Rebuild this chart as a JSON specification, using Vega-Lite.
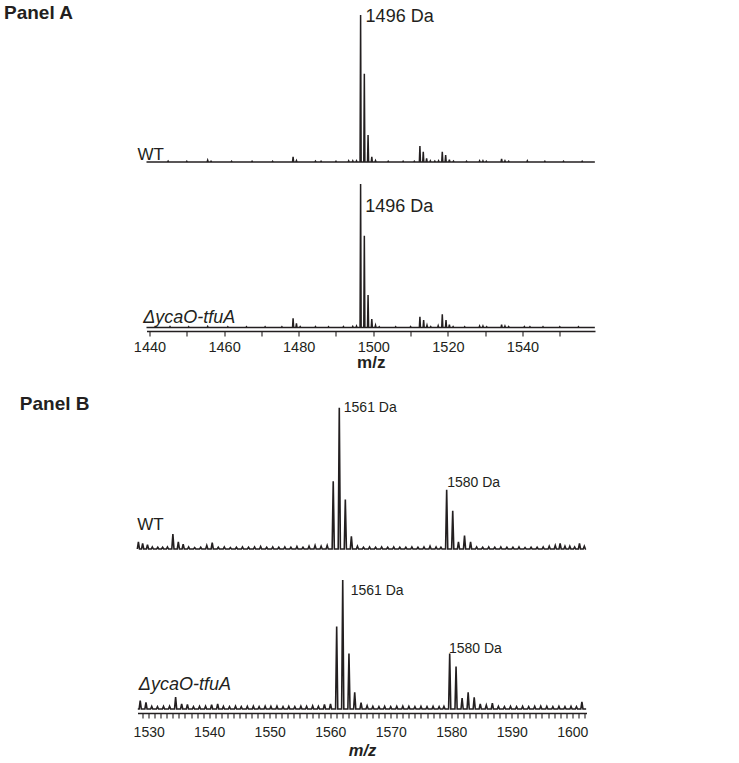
{
"$schema": "https://vega.github.io/schema/vega-lite/v6.json",
"padding": {"left": 3.5, "top": 0, "right": 8, "bottom": 4},
"background": "white",
"spacing": 20,
"bounds": "flush",
"config": {"view": {"stroke": null}, "font": "Liberation Sans", "text": {"font": "Liberation Sans", "color": "#231f20"}},
"datasets": {
"aWT": [
{"mz":1439.2,"intensity":0},
{"mz":1444.85,"intensity":0},{"mz":1445,"intensity":0.006},{"mz":1445.15,"intensity":0},
{"mz":1449.85,"intensity":0},{"mz":1450,"intensity":0.005},{"mz":1450.15,"intensity":0},
{"mz":1455.45,"intensity":0},{"mz":1455.6,"intensity":0.012},{"mz":1455.75,"intensity":0},
{"mz":1456.35,"intensity":0},{"mz":1456.5,"intensity":0.005},{"mz":1456.65,"intensity":0},
{"mz":1461.85,"intensity":0},{"mz":1462,"intensity":0.005},{"mz":1462.15,"intensity":0},
{"mz":1467.35,"intensity":0},{"mz":1467.5,"intensity":0.005},{"mz":1467.65,"intensity":0},
{"mz":1472.85,"intensity":0},{"mz":1473,"intensity":0.005},{"mz":1473.15,"intensity":0},
{"mz":1478.35,"intensity":0},{"mz":1478.5,"intensity":0.036},{"mz":1478.65,"intensity":0},
{"mz":1479.25,"intensity":0},{"mz":1479.4,"intensity":0.01},{"mz":1479.55,"intensity":0},
{"mz":1484.35,"intensity":0},{"mz":1484.5,"intensity":0.006},{"mz":1484.65,"intensity":0},
{"mz":1485.85,"intensity":0},{"mz":1486,"intensity":0.005},{"mz":1486.15,"intensity":0},
{"mz":1489.85,"intensity":0},{"mz":1490,"intensity":0.005},{"mz":1490.15,"intensity":0},
{"mz":1493.25,"intensity":0},{"mz":1493.4,"intensity":0.008},{"mz":1493.55,"intensity":0},
{"mz":1494.35,"intensity":0},{"mz":1494.5,"intensity":0.008},{"mz":1494.65,"intensity":0},
{"mz":1495.35,"intensity":0},{"mz":1495.5,"intensity":0.008},{"mz":1495.65,"intensity":0},
{"mz":1496.45,"intensity":0},{"mz":1496.6,"intensity":1,"label":"1496 Da"},{"mz":1496.75,"intensity":0},
{"mz":1497.45,"intensity":0},{"mz":1497.6,"intensity":0.6},{"mz":1497.75,"intensity":0},
{"mz":1498.45,"intensity":0},{"mz":1498.6,"intensity":0.184},{"mz":1498.75,"intensity":0},
{"mz":1499.45,"intensity":0},{"mz":1499.6,"intensity":0.036},{"mz":1499.75,"intensity":0},
{"mz":1500.45,"intensity":0},{"mz":1500.6,"intensity":0.01},{"mz":1500.75,"intensity":0},
{"mz":1503.85,"intensity":0},{"mz":1504,"intensity":0.005},{"mz":1504.15,"intensity":0},
{"mz":1507.85,"intensity":0},{"mz":1508,"intensity":0.005},{"mz":1508.15,"intensity":0},
{"mz":1510.85,"intensity":0},{"mz":1511,"intensity":0.005},{"mz":1511.15,"intensity":0},
{"mz":1512.35,"intensity":0},{"mz":1512.5,"intensity":0.109},{"mz":1512.65,"intensity":0},
{"mz":1513.25,"intensity":0},{"mz":1513.4,"intensity":0.07},{"mz":1513.55,"intensity":0},
{"mz":1514.15,"intensity":0},{"mz":1514.3,"intensity":0.025},{"mz":1514.45,"intensity":0},
{"mz":1515.15,"intensity":0},{"mz":1515.3,"intensity":0.008},{"mz":1515.45,"intensity":0},
{"mz":1516.35,"intensity":0},{"mz":1516.5,"intensity":0.006},{"mz":1516.65,"intensity":0},
{"mz":1517.35,"intensity":0},{"mz":1517.5,"intensity":0.008},{"mz":1517.65,"intensity":0},
{"mz":1518.35,"intensity":0},{"mz":1518.5,"intensity":0.07},{"mz":1518.65,"intensity":0},
{"mz":1519.25,"intensity":0},{"mz":1519.4,"intensity":0.048},{"mz":1519.55,"intensity":0},
{"mz":1520.25,"intensity":0},{"mz":1520.4,"intensity":0.016},{"mz":1520.55,"intensity":0},
{"mz":1521.35,"intensity":0},{"mz":1521.5,"intensity":0.006},{"mz":1521.65,"intensity":0},
{"mz":1524.85,"intensity":0},{"mz":1525,"intensity":0.005},{"mz":1525.15,"intensity":0},
{"mz":1528.35,"intensity":0},{"mz":1528.5,"intensity":0.008},{"mz":1528.65,"intensity":0},
{"mz":1529.25,"intensity":0},{"mz":1529.4,"intensity":0.008},{"mz":1529.55,"intensity":0},
{"mz":1530.15,"intensity":0},{"mz":1530.3,"intensity":0.005},{"mz":1530.45,"intensity":0},
{"mz":1534.25,"intensity":0},{"mz":1534.4,"intensity":0.022},{"mz":1534.55,"intensity":0},
{"mz":1535.15,"intensity":0},{"mz":1535.3,"intensity":0.008},{"mz":1535.45,"intensity":0},
{"mz":1536.15,"intensity":0},{"mz":1536.3,"intensity":0.005},{"mz":1536.45,"intensity":0},
{"mz":1541.15,"intensity":0},{"mz":1541.3,"intensity":0.008},{"mz":1541.45,"intensity":0},
{"mz":1545.85,"intensity":0},{"mz":1546,"intensity":0.005},{"mz":1546.15,"intensity":0},
{"mz":1550.85,"intensity":0},{"mz":1551,"intensity":0.005},{"mz":1551.15,"intensity":0},
{"mz":1555.85,"intensity":0},{"mz":1556,"intensity":0.005},{"mz":1556.15,"intensity":0},
{"mz":1559.4,"intensity":0}
],
"aKO": [
{"mz":1439.2,"intensity":0},
{"mz":1445.35,"intensity":0},{"mz":1445.5,"intensity":0.006},{"mz":1445.65,"intensity":0},
{"mz":1450.35,"intensity":0},{"mz":1450.5,"intensity":0.005},{"mz":1450.65,"intensity":0},
{"mz":1455.45,"intensity":0},{"mz":1455.6,"intensity":0.008},{"mz":1455.75,"intensity":0},
{"mz":1460.85,"intensity":0},{"mz":1461,"intensity":0.005},{"mz":1461.15,"intensity":0},
{"mz":1465.85,"intensity":0},{"mz":1466,"intensity":0.005},{"mz":1466.15,"intensity":0},
{"mz":1470.85,"intensity":0},{"mz":1471,"intensity":0.005},{"mz":1471.15,"intensity":0},
{"mz":1475.35,"intensity":0},{"mz":1475.5,"intensity":0.005},{"mz":1475.65,"intensity":0},
{"mz":1478.35,"intensity":0},{"mz":1478.5,"intensity":0.064},{"mz":1478.65,"intensity":0},
{"mz":1479.25,"intensity":0},{"mz":1479.4,"intensity":0.029},{"mz":1479.55,"intensity":0},
{"mz":1480.25,"intensity":0},{"mz":1480.4,"intensity":0.006},{"mz":1480.55,"intensity":0},
{"mz":1484.35,"intensity":0},{"mz":1484.5,"intensity":0.006},{"mz":1484.65,"intensity":0},
{"mz":1487.85,"intensity":0},{"mz":1488,"intensity":0.005},{"mz":1488.15,"intensity":0},
{"mz":1491.85,"intensity":0},{"mz":1492,"intensity":0.006},{"mz":1492.15,"intensity":0},
{"mz":1494.35,"intensity":0},{"mz":1494.5,"intensity":0.008},{"mz":1494.65,"intensity":0},
{"mz":1495.35,"intensity":0},{"mz":1495.5,"intensity":0.01},{"mz":1495.65,"intensity":0},
{"mz":1496.45,"intensity":0},{"mz":1496.6,"intensity":1,"label":"1496 Da"},{"mz":1496.75,"intensity":0},
{"mz":1497.45,"intensity":0},{"mz":1497.6,"intensity":0.64},{"mz":1497.75,"intensity":0},
{"mz":1498.45,"intensity":0},{"mz":1498.6,"intensity":0.226},{"mz":1498.75,"intensity":0},
{"mz":1499.45,"intensity":0},{"mz":1499.6,"intensity":0.059},{"mz":1499.75,"intensity":0},
{"mz":1500.45,"intensity":0},{"mz":1500.6,"intensity":0.015},{"mz":1500.75,"intensity":0},
{"mz":1501.45,"intensity":0},{"mz":1501.6,"intensity":0.005},{"mz":1501.75,"intensity":0},
{"mz":1505.85,"intensity":0},{"mz":1506,"intensity":0.005},{"mz":1506.15,"intensity":0},
{"mz":1509.85,"intensity":0},{"mz":1510,"intensity":0.006},{"mz":1510.15,"intensity":0},
{"mz":1512.35,"intensity":0},{"mz":1512.5,"intensity":0.075},{"mz":1512.65,"intensity":0},
{"mz":1513.35,"intensity":0},{"mz":1513.5,"intensity":0.052},{"mz":1513.65,"intensity":0},
{"mz":1514.25,"intensity":0},{"mz":1514.4,"intensity":0.015},{"mz":1514.55,"intensity":0},
{"mz":1515.25,"intensity":0},{"mz":1515.4,"intensity":0.006},{"mz":1515.55,"intensity":0},
{"mz":1517.25,"intensity":0},{"mz":1517.4,"intensity":0.012},{"mz":1517.55,"intensity":0},
{"mz":1518.35,"intensity":0},{"mz":1518.5,"intensity":0.092},{"mz":1518.65,"intensity":0},
{"mz":1519.35,"intensity":0},{"mz":1519.5,"intensity":0.052},{"mz":1519.65,"intensity":0},
{"mz":1520.25,"intensity":0},{"mz":1520.4,"intensity":0.02},{"mz":1520.55,"intensity":0},
{"mz":1521.25,"intensity":0},{"mz":1521.4,"intensity":0.006},{"mz":1521.55,"intensity":0},
{"mz":1524.35,"intensity":0},{"mz":1524.5,"intensity":0.005},{"mz":1524.65,"intensity":0},
{"mz":1528.35,"intensity":0},{"mz":1528.5,"intensity":0.01},{"mz":1528.65,"intensity":0},
{"mz":1529.25,"intensity":0},{"mz":1529.4,"intensity":0.01},{"mz":1529.55,"intensity":0},
{"mz":1530.25,"intensity":0},{"mz":1530.4,"intensity":0.005},{"mz":1530.55,"intensity":0},
{"mz":1534.25,"intensity":0},{"mz":1534.4,"intensity":0.02},{"mz":1534.55,"intensity":0},
{"mz":1535.15,"intensity":0},{"mz":1535.3,"intensity":0.01},{"mz":1535.45,"intensity":0},
{"mz":1536.15,"intensity":0},{"mz":1536.3,"intensity":0.006},{"mz":1536.45,"intensity":0},
{"mz":1540.35,"intensity":0},{"mz":1540.5,"intensity":0.006},{"mz":1540.65,"intensity":0},
{"mz":1541.85,"intensity":0},{"mz":1542,"intensity":0.005},{"mz":1542.15,"intensity":0},
{"mz":1545.35,"intensity":0},{"mz":1545.5,"intensity":0.005},{"mz":1545.65,"intensity":0},
{"mz":1549.85,"intensity":0},{"mz":1550,"intensity":0.005},{"mz":1550.15,"intensity":0},
{"mz":1554.85,"intensity":0},{"mz":1555,"intensity":0.005},{"mz":1555.15,"intensity":0},
{"mz":1559.4,"intensity":0}
],
"bWT": [
{"mz":1528.12,"intensity":0},{"mz":1528.3,"intensity":0.05},{"mz":1528.48,"intensity":0},
{"mz":1528.82,"intensity":0},{"mz":1529.0,"intensity":0.04},{"mz":1529.18,"intensity":0},
{"mz":1529.62,"intensity":0},{"mz":1529.8,"intensity":0.03},{"mz":1529.98,"intensity":0},
{"mz":1530.42,"intensity":0},{"mz":1530.6,"intensity":0.015},{"mz":1530.78,"intensity":0},
{"mz":1531.32,"intensity":0},{"mz":1531.5,"intensity":0.012},{"mz":1531.68,"intensity":0},
{"mz":1532.12,"intensity":0},{"mz":1532.3,"intensity":0.012},{"mz":1532.48,"intensity":0},
{"mz":1532.92,"intensity":0},{"mz":1533.1,"intensity":0.015},{"mz":1533.28,"intensity":0},
{"mz":1533.82,"intensity":0},{"mz":1534.0,"intensity":0.105},{"mz":1534.18,"intensity":0},
{"mz":1534.72,"intensity":0},{"mz":1534.9,"intensity":0.05},{"mz":1535.08,"intensity":0},
{"mz":1535.52,"intensity":0},{"mz":1535.7,"intensity":0.035},{"mz":1535.88,"intensity":0},
{"mz":1536.42,"intensity":0},{"mz":1536.6,"intensity":0.015},{"mz":1536.78,"intensity":0},
{"mz":1537.42,"intensity":0},{"mz":1537.6,"intensity":0.01},{"mz":1537.78,"intensity":0},
{"mz":1538.42,"intensity":0},{"mz":1538.6,"intensity":0.012},{"mz":1538.78,"intensity":0},
{"mz":1539.42,"intensity":0},{"mz":1539.6,"intensity":0.025},{"mz":1539.78,"intensity":0},
{"mz":1540.32,"intensity":0},{"mz":1540.5,"intensity":0.045},{"mz":1540.68,"intensity":0},
{"mz":1541.32,"intensity":0},{"mz":1541.5,"intensity":0.012},{"mz":1541.68,"intensity":0},
{"mz":1542.32,"intensity":0},{"mz":1542.5,"intensity":0.015},{"mz":1542.68,"intensity":0},
{"mz":1543.32,"intensity":0},{"mz":1543.5,"intensity":0.01},{"mz":1543.68,"intensity":0},
{"mz":1544.32,"intensity":0},{"mz":1544.5,"intensity":0.012},{"mz":1544.68,"intensity":0},
{"mz":1545.32,"intensity":0},{"mz":1545.5,"intensity":0.015},{"mz":1545.68,"intensity":0},
{"mz":1546.32,"intensity":0},{"mz":1546.5,"intensity":0.012},{"mz":1546.68,"intensity":0},
{"mz":1547.32,"intensity":0},{"mz":1547.5,"intensity":0.015},{"mz":1547.68,"intensity":0},
{"mz":1548.32,"intensity":0},{"mz":1548.5,"intensity":0.018},{"mz":1548.68,"intensity":0},
{"mz":1549.32,"intensity":0},{"mz":1549.5,"intensity":0.012},{"mz":1549.68,"intensity":0},
{"mz":1550.32,"intensity":0},{"mz":1550.5,"intensity":0.015},{"mz":1550.68,"intensity":0},
{"mz":1551.32,"intensity":0},{"mz":1551.5,"intensity":0.012},{"mz":1551.68,"intensity":0},
{"mz":1552.32,"intensity":0},{"mz":1552.5,"intensity":0.015},{"mz":1552.68,"intensity":0},
{"mz":1553.32,"intensity":0},{"mz":1553.5,"intensity":0.012},{"mz":1553.68,"intensity":0},
{"mz":1554.32,"intensity":0},{"mz":1554.5,"intensity":0.018},{"mz":1554.68,"intensity":0},
{"mz":1555.32,"intensity":0},{"mz":1555.5,"intensity":0.012},{"mz":1555.68,"intensity":0},
{"mz":1556.32,"intensity":0},{"mz":1556.5,"intensity":0.02},{"mz":1556.68,"intensity":0},
{"mz":1557.32,"intensity":0},{"mz":1557.5,"intensity":0.025},{"mz":1557.68,"intensity":0},
{"mz":1558.32,"intensity":0},{"mz":1558.5,"intensity":0.02},{"mz":1558.68,"intensity":0},
{"mz":1559.32,"intensity":0},{"mz":1559.5,"intensity":0.025},{"mz":1559.68,"intensity":0},
{"mz":1560.32,"intensity":0},{"mz":1560.5,"intensity":0.48},{"mz":1560.68,"intensity":0},
{"mz":1561.32,"intensity":0},{"mz":1561.5,"intensity":1,"label":"1561 Da"},{"mz":1561.68,"intensity":0},
{"mz":1562.32,"intensity":0},{"mz":1562.5,"intensity":0.35},{"mz":1562.68,"intensity":0},
{"mz":1563.32,"intensity":0},{"mz":1563.5,"intensity":0.09},{"mz":1563.68,"intensity":0},
{"mz":1564.32,"intensity":0},{"mz":1564.5,"intensity":0.02},{"mz":1564.68,"intensity":0},
{"mz":1565.32,"intensity":0},{"mz":1565.5,"intensity":0.012},{"mz":1565.68,"intensity":0},
{"mz":1566.32,"intensity":0},{"mz":1566.5,"intensity":0.015},{"mz":1566.68,"intensity":0},
{"mz":1567.32,"intensity":0},{"mz":1567.5,"intensity":0.012},{"mz":1567.68,"intensity":0},
{"mz":1568.32,"intensity":0},{"mz":1568.5,"intensity":0.015},{"mz":1568.68,"intensity":0},
{"mz":1569.32,"intensity":0},{"mz":1569.5,"intensity":0.012},{"mz":1569.68,"intensity":0},
{"mz":1570.32,"intensity":0},{"mz":1570.5,"intensity":0.015},{"mz":1570.68,"intensity":0},
{"mz":1571.32,"intensity":0},{"mz":1571.5,"intensity":0.012},{"mz":1571.68,"intensity":0},
{"mz":1572.32,"intensity":0},{"mz":1572.5,"intensity":0.012},{"mz":1572.68,"intensity":0},
{"mz":1573.32,"intensity":0},{"mz":1573.5,"intensity":0.015},{"mz":1573.68,"intensity":0},
{"mz":1574.32,"intensity":0},{"mz":1574.5,"intensity":0.012},{"mz":1574.68,"intensity":0},
{"mz":1575.32,"intensity":0},{"mz":1575.5,"intensity":0.015},{"mz":1575.68,"intensity":0},
{"mz":1576.32,"intensity":0},{"mz":1576.5,"intensity":0.02},{"mz":1576.68,"intensity":0},
{"mz":1577.32,"intensity":0},{"mz":1577.5,"intensity":0.015},{"mz":1577.68,"intensity":0},
{"mz":1578.12,"intensity":0},{"mz":1578.3,"intensity":0.012},{"mz":1578.48,"intensity":0},
{"mz":1579.07,"intensity":0},{"mz":1579.25,"intensity":0.42,"label":"1580 Da"},{"mz":1579.43,"intensity":0},
{"mz":1580.07,"intensity":0},{"mz":1580.25,"intensity":0.27},{"mz":1580.43,"intensity":0},
{"mz":1581.02,"intensity":0},{"mz":1581.2,"intensity":0.05},{"mz":1581.38,"intensity":0},
{"mz":1582.02,"intensity":0},{"mz":1582.2,"intensity":0.095},{"mz":1582.38,"intensity":0},
{"mz":1583.02,"intensity":0},{"mz":1583.2,"intensity":0.05},{"mz":1583.38,"intensity":0},
{"mz":1584.02,"intensity":0},{"mz":1584.2,"intensity":0.015},{"mz":1584.38,"intensity":0},
{"mz":1585.02,"intensity":0},{"mz":1585.2,"intensity":0.012},{"mz":1585.38,"intensity":0},
{"mz":1586.02,"intensity":0},{"mz":1586.2,"intensity":0.015},{"mz":1586.38,"intensity":0},
{"mz":1587.02,"intensity":0},{"mz":1587.2,"intensity":0.012},{"mz":1587.38,"intensity":0},
{"mz":1588.02,"intensity":0},{"mz":1588.2,"intensity":0.015},{"mz":1588.38,"intensity":0},
{"mz":1589.02,"intensity":0},{"mz":1589.2,"intensity":0.012},{"mz":1589.38,"intensity":0},
{"mz":1590.02,"intensity":0},{"mz":1590.2,"intensity":0.012},{"mz":1590.38,"intensity":0},
{"mz":1591.02,"intensity":0},{"mz":1591.2,"intensity":0.015},{"mz":1591.38,"intensity":0},
{"mz":1592.02,"intensity":0},{"mz":1592.2,"intensity":0.01},{"mz":1592.38,"intensity":0},
{"mz":1593.02,"intensity":0},{"mz":1593.2,"intensity":0.012},{"mz":1593.38,"intensity":0},
{"mz":1594.02,"intensity":0},{"mz":1594.2,"intensity":0.012},{"mz":1594.38,"intensity":0},
{"mz":1595.02,"intensity":0},{"mz":1595.2,"intensity":0.015},{"mz":1595.38,"intensity":0},
{"mz":1596.02,"intensity":0},{"mz":1596.2,"intensity":0.02},{"mz":1596.38,"intensity":0},
{"mz":1597.02,"intensity":0},{"mz":1597.2,"intensity":0.025},{"mz":1597.38,"intensity":0},
{"mz":1597.82,"intensity":0},{"mz":1598.0,"intensity":0.04},{"mz":1598.18,"intensity":0},
{"mz":1598.62,"intensity":0},{"mz":1598.8,"intensity":0.02},{"mz":1598.98,"intensity":0},
{"mz":1599.42,"intensity":0},{"mz":1599.6,"intensity":0.02},{"mz":1599.78,"intensity":0},
{"mz":1600.22,"intensity":0},{"mz":1600.4,"intensity":0.015},{"mz":1600.58,"intensity":0},
{"mz":1601.02,"intensity":0},{"mz":1601.2,"intensity":0.04},{"mz":1601.38,"intensity":0},
{"mz":1601.82,"intensity":0},{"mz":1602.0,"intensity":0.02},{"mz":1602.18,"intensity":0},
{"mz":1602.3,"intensity":0}
],
"bKO": [
{"mz":1528.2,"intensity":0},
{"mz":1528.42,"intensity":0},{"mz":1528.6,"intensity":0.065},{"mz":1528.78,"intensity":0},
{"mz":1529.37,"intensity":0},{"mz":1529.55,"intensity":0.052},{"mz":1529.73,"intensity":0},
{"mz":1530.32,"intensity":0},{"mz":1530.5,"intensity":0.02},{"mz":1530.68,"intensity":0},
{"mz":1531.27,"intensity":0},{"mz":1531.45,"intensity":0.018},{"mz":1531.63,"intensity":0},
{"mz":1532.27,"intensity":0},{"mz":1532.45,"intensity":0.02},{"mz":1532.63,"intensity":0},
{"mz":1533.27,"intensity":0},{"mz":1533.45,"intensity":0.022},{"mz":1533.63,"intensity":0},
{"mz":1534.27,"intensity":0},{"mz":1534.45,"intensity":0.093},{"mz":1534.63,"intensity":0},
{"mz":1535.27,"intensity":0},{"mz":1535.45,"intensity":0.04},{"mz":1535.63,"intensity":0},
{"mz":1536.22,"intensity":0},{"mz":1536.4,"intensity":0.036},{"mz":1536.58,"intensity":0},
{"mz":1537.22,"intensity":0},{"mz":1537.4,"intensity":0.018},{"mz":1537.58,"intensity":0},
{"mz":1538.22,"intensity":0},{"mz":1538.4,"intensity":0.02},{"mz":1538.58,"intensity":0},
{"mz":1539.22,"intensity":0},{"mz":1539.4,"intensity":0.022},{"mz":1539.58,"intensity":0},
{"mz":1540.22,"intensity":0},{"mz":1540.4,"intensity":0.034},{"mz":1540.58,"intensity":0},
{"mz":1541.22,"intensity":0},{"mz":1541.4,"intensity":0.04},{"mz":1541.58,"intensity":0},
{"mz":1542.17,"intensity":0},{"mz":1542.35,"intensity":0.02},{"mz":1542.53,"intensity":0},
{"mz":1543.17,"intensity":0},{"mz":1543.35,"intensity":0.018},{"mz":1543.53,"intensity":0},
{"mz":1544.17,"intensity":0},{"mz":1544.35,"intensity":0.022},{"mz":1544.53,"intensity":0},
{"mz":1545.12,"intensity":0},{"mz":1545.3,"intensity":0.018},{"mz":1545.48,"intensity":0},
{"mz":1546.12,"intensity":0},{"mz":1546.3,"intensity":0.02},{"mz":1546.48,"intensity":0},
{"mz":1547.12,"intensity":0},{"mz":1547.3,"intensity":0.022},{"mz":1547.48,"intensity":0},
{"mz":1548.07,"intensity":0},{"mz":1548.25,"intensity":0.018},{"mz":1548.43,"intensity":0},
{"mz":1549.07,"intensity":0},{"mz":1549.25,"intensity":0.022},{"mz":1549.43,"intensity":0},
{"mz":1550.02,"intensity":0},{"mz":1550.2,"intensity":0.02},{"mz":1550.38,"intensity":0},
{"mz":1551.02,"intensity":0},{"mz":1551.2,"intensity":0.022},{"mz":1551.38,"intensity":0},
{"mz":1552.02,"intensity":0},{"mz":1552.2,"intensity":0.018},{"mz":1552.38,"intensity":0},
{"mz":1552.97,"intensity":0},{"mz":1553.15,"intensity":0.02},{"mz":1553.33,"intensity":0},
{"mz":1553.97,"intensity":0},{"mz":1554.15,"intensity":0.018},{"mz":1554.33,"intensity":0},
{"mz":1554.97,"intensity":0},{"mz":1555.15,"intensity":0.022},{"mz":1555.33,"intensity":0},
{"mz":1555.92,"intensity":0},{"mz":1556.1,"intensity":0.02},{"mz":1556.28,"intensity":0},
{"mz":1556.92,"intensity":0},{"mz":1557.1,"intensity":0.024},{"mz":1557.28,"intensity":0},
{"mz":1557.87,"intensity":0},{"mz":1558.05,"intensity":0.02},{"mz":1558.23,"intensity":0},
{"mz":1558.87,"intensity":0},{"mz":1559.05,"intensity":0.036},{"mz":1559.23,"intensity":0},
{"mz":1559.87,"intensity":0},{"mz":1560.05,"intensity":0.04},{"mz":1560.23,"intensity":0},
{"mz":1560.89,"intensity":0},{"mz":1561.07,"intensity":0.64},{"mz":1561.25,"intensity":0},
{"mz":1561.89,"intensity":0},{"mz":1562.07,"intensity":1,"label":"1561 Da"},{"mz":1562.25,"intensity":0},
{"mz":1562.92,"intensity":0},{"mz":1563.1,"intensity":0.43},{"mz":1563.28,"intensity":0},
{"mz":1563.87,"intensity":0},{"mz":1564.05,"intensity":0.13},{"mz":1564.23,"intensity":0},
{"mz":1564.92,"intensity":0},{"mz":1565.1,"intensity":0.05},{"mz":1565.28,"intensity":0},
{"mz":1565.92,"intensity":0},{"mz":1566.1,"intensity":0.025},{"mz":1566.28,"intensity":0},
{"mz":1566.87,"intensity":0},{"mz":1567.05,"intensity":0.02},{"mz":1567.23,"intensity":0},
{"mz":1567.87,"intensity":0},{"mz":1568.05,"intensity":0.018},{"mz":1568.23,"intensity":0},
{"mz":1568.82,"intensity":0},{"mz":1569.0,"intensity":0.02},{"mz":1569.18,"intensity":0},
{"mz":1569.82,"intensity":0},{"mz":1570.0,"intensity":0.018},{"mz":1570.18,"intensity":0},
{"mz":1570.82,"intensity":0},{"mz":1571.0,"intensity":0.02},{"mz":1571.18,"intensity":0},
{"mz":1571.82,"intensity":0},{"mz":1572.0,"intensity":0.022},{"mz":1572.18,"intensity":0},
{"mz":1572.82,"intensity":0},{"mz":1573.0,"intensity":0.02},{"mz":1573.18,"intensity":0},
{"mz":1573.82,"intensity":0},{"mz":1574.0,"intensity":0.018},{"mz":1574.18,"intensity":0},
{"mz":1574.82,"intensity":0},{"mz":1575.0,"intensity":0.02},{"mz":1575.18,"intensity":0},
{"mz":1575.82,"intensity":0},{"mz":1576.0,"intensity":0.018},{"mz":1576.18,"intensity":0},
{"mz":1576.82,"intensity":0},{"mz":1577.0,"intensity":0.02},{"mz":1577.18,"intensity":0},
{"mz":1577.82,"intensity":0},{"mz":1578.0,"intensity":0.018},{"mz":1578.18,"intensity":0},
{"mz":1578.62,"intensity":0},{"mz":1578.8,"intensity":0.02},{"mz":1578.98,"intensity":0},
{"mz":1579.57,"intensity":0},{"mz":1579.75,"intensity":0.43,"label":"1580 Da"},{"mz":1579.93,"intensity":0},
{"mz":1580.62,"intensity":0},{"mz":1580.8,"intensity":0.33},{"mz":1580.98,"intensity":0},
{"mz":1581.62,"intensity":0},{"mz":1581.8,"intensity":0.085},{"mz":1581.98,"intensity":0},
{"mz":1582.62,"intensity":0},{"mz":1582.8,"intensity":0.13},{"mz":1582.98,"intensity":0},
{"mz":1583.62,"intensity":0},{"mz":1583.8,"intensity":0.09},{"mz":1583.98,"intensity":0},
{"mz":1584.62,"intensity":0},{"mz":1584.8,"intensity":0.04},{"mz":1584.98,"intensity":0},
{"mz":1585.62,"intensity":0},{"mz":1585.8,"intensity":0.03},{"mz":1585.98,"intensity":0},
{"mz":1586.62,"intensity":0},{"mz":1586.8,"intensity":0.045},{"mz":1586.98,"intensity":0},
{"mz":1587.62,"intensity":0},{"mz":1587.8,"intensity":0.02},{"mz":1587.98,"intensity":0},
{"mz":1588.62,"intensity":0},{"mz":1588.8,"intensity":0.018},{"mz":1588.98,"intensity":0},
{"mz":1589.62,"intensity":0},{"mz":1589.8,"intensity":0.02},{"mz":1589.98,"intensity":0},
{"mz":1590.62,"intensity":0},{"mz":1590.8,"intensity":0.018},{"mz":1590.98,"intensity":0},
{"mz":1591.62,"intensity":0},{"mz":1591.8,"intensity":0.02},{"mz":1591.98,"intensity":0},
{"mz":1592.62,"intensity":0},{"mz":1592.8,"intensity":0.018},{"mz":1592.98,"intensity":0},
{"mz":1593.62,"intensity":0},{"mz":1593.8,"intensity":0.02},{"mz":1593.98,"intensity":0},
{"mz":1594.62,"intensity":0},{"mz":1594.8,"intensity":0.022},{"mz":1594.98,"intensity":0},
{"mz":1595.62,"intensity":0},{"mz":1595.8,"intensity":0.02},{"mz":1595.98,"intensity":0},
{"mz":1596.62,"intensity":0},{"mz":1596.8,"intensity":0.018},{"mz":1596.98,"intensity":0},
{"mz":1597.62,"intensity":0},{"mz":1597.8,"intensity":0.02},{"mz":1597.98,"intensity":0},
{"mz":1598.62,"intensity":0},{"mz":1598.8,"intensity":0.018},{"mz":1598.98,"intensity":0},
{"mz":1599.62,"intensity":0},{"mz":1599.8,"intensity":0.02},{"mz":1599.98,"intensity":0},
{"mz":1600.52,"intensity":0},{"mz":1600.7,"intensity":0.018},{"mz":1600.88,"intensity":0},
{"mz":1601.42,"intensity":0},{"mz":1601.6,"intensity":0.055},{"mz":1601.78,"intensity":0},
{"mz":1602.3,"intensity":0}
]
},
"vconcat": [
{
"width": 458, "height": 162,
"title": {"text": "Panel A", "anchor": "start", "frame": "group", "dx": -133.5, "offset": -37.6, "baseline": "alphabetic", "fontSize": 19, "fontWeight": "bold", "font": "Liberation Sans", "color": "#231f20"},
"data": {"name": "aWT"},
"layer": [
{"mark": {"type": "line", "color": "#231f20", "strokeWidth": 1.5},
 "encoding": {
  "x": {"field": "mz", "type": "quantitative", "scale": {"domain": [1439.2, 1559.44], "range": [9, 457.5], "nice": false, "zero": false}, "axis": null},
  "y": {"field": "intensity", "type": "quantitative", "scale": {"domain": [0, 1.102], "nice": false, "zero": false}, "axis": null}}},
{"transform": [{"filter": "isValid(datum.label)"}],
 "mark": {"type": "text", "align": "left", "baseline": "alphabetic", "dx": 5, "dy": 6.7, "fontSize": 18, "color": "#231f20"},
 "encoding": {"x": {"field": "mz", "type": "quantitative"}, "y": {"field": "intensity", "type": "quantitative"}, "text": {"field": "label"}}},
{"mark": {"type": "text", "text": "WT", "align": "left", "baseline": "alphabetic", "dx": -9, "dy": -2, "fontSize": 17, "color": "#231f20"},
 "encoding": {"x": {"aggregate": "min", "field": "mz", "type": "quantitative"}, "y": {"datum": 0}}}
]
},
{
"width": 458, "height": 149,
"data": {"name": "aKO"},
"layer": [
{"mark": {"type": "line", "color": "#231f20", "strokeWidth": 1.5},
 "encoding": {
  "x": {"field": "mz", "type": "quantitative", "scale": {"domain": [1439.2, 1559.44], "range": [9, 457.5], "nice": false, "zero": false},
   "axis": {"values": [1440, 1450, 1460, 1470, 1480, 1490, 1500, 1510, 1520, 1530, 1540, 1550], "tickCount": 200, "format": "d", "labelExpr": "datum.value % 20 === 0 ? datum.label : ''", "grid": false, "tickSize": 5, "tickWidth": 1.1, "tickColor": "#231f20", "domainColor": "#231f20", "domainWidth": 1.3, "labelFont": "Liberation Sans", "labelFontSize": 14.5, "labelColor": "#231f20", "labelPadding": 4, "labelFlush": false, "labelOverlap": false, "title": "m/z", "titleFont": "Liberation Sans", "titleFontSize": 17, "titleFontWeight": "bold", "titleColor": "#231f20", "titlePadding": 1}},
  "y": {"field": "intensity", "type": "quantitative", "scale": {"domain": [-0.0244, 1.0139], "nice": false, "zero": false}, "axis": null}}},
{"transform": [{"filter": "isValid(datum.label)"}],
 "mark": {"type": "text", "align": "left", "baseline": "alphabetic", "dx": 4.7, "dy": 27.7, "fontSize": 18, "color": "#231f20"},
 "encoding": {"x": {"field": "mz", "type": "quantitative"}, "y": {"field": "intensity", "type": "quantitative"}, "text": {"field": "label"}}},
{"mark": {"type": "text", "text": "ΔycaO-tfuA", "align": "left", "baseline": "alphabetic", "dx": -3.3, "dy": -4.5, "fontSize": 18, "fontStyle": "italic", "color": "#231f20"},
 "encoding": {"x": {"aggregate": "min", "field": "mz", "type": "quantitative"}, "y": {"datum": 0}}}
]
},
{
"width": 449, "height": 198,
"title": {"text": "Panel B", "anchor": "start", "frame": "group", "dx": -117.7, "offset": -78, "baseline": "alphabetic", "fontSize": 19, "fontWeight": "bold", "font": "Liberation Sans", "color": "#231f20"},
"data": {"name": "bWT"},
"layer": [
{"mark": {"type": "line", "color": "#231f20", "strokeWidth": 1.6},
 "encoding": {
  "x": {"field": "mz", "type": "quantitative", "scale": {"domain": [1528.15, 1602.36], "nice": false, "zero": false}, "axis": null},
  "y": {"field": "intensity", "type": "quantitative", "scale": {"domain": [0, 1.4013], "nice": false, "zero": false}, "axis": null}}},
{"transform": [{"filter": "datum.label === '1561 Da'"}],
 "mark": {"type": "text", "align": "left", "baseline": "alphabetic", "dx": 4.5, "dy": 4, "fontSize": 14, "color": "#231f20"},
 "encoding": {"x": {"field": "mz", "type": "quantitative"}, "y": {"field": "intensity", "type": "quantitative"}, "text": {"field": "label"}}},
{"transform": [{"filter": "datum.label === '1580 Da'"}],
 "mark": {"type": "text", "align": "left", "baseline": "alphabetic", "dx": 0.5, "dy": -2.3, "fontSize": 14, "color": "#231f20"},
 "encoding": {"x": {"field": "mz", "type": "quantitative"}, "y": {"field": "intensity", "type": "quantitative"}, "text": {"field": "label"}}},
{"mark": {"type": "text", "text": "WT", "align": "left", "baseline": "alphabetic", "dx": 0, "dy": -19, "fontSize": 17, "color": "#231f20"},
 "encoding": {"x": {"aggregate": "min", "field": "mz", "type": "quantitative"}, "y": {"datum": 0}}}
]
},
{
"width": 449, "height": 144,
"data": {"name": "bKO"},
"layer": [
{"mark": {"type": "line", "color": "#231f20", "strokeWidth": 1.6},
 "encoding": {
  "x": {"field": "mz", "type": "quantitative", "scale": {"domain": [1528.15, 1602.36], "nice": false, "zero": false},
   "axis": {"values": [1529,1530,1531,1532,1533,1534,1535,1536,1537,1538,1539,1540,1541,1542,1543,1544,1545,1546,1547,1548,1549,1550,1551,1552,1553,1554,1555,1556,1557,1558,1559,1560,1561,1562,1563,1564,1565,1566,1567,1568,1569,1570,1571,1572,1573,1574,1575,1576,1577,1578,1579,1580,1581,1582,1583,1584,1585,1586,1587,1588,1589,1590,1591,1592,1593,1594,1595,1596,1597,1598,1599,1600,1601,1602], "tickCount": 200, "format": "d", "labelExpr": "datum.value % 10 === 0 ? datum.label : ''", "grid": false, "tickSize": 5, "tickWidth": 1.1, "tickColor": "#231f20", "domainColor": "#231f20", "domainWidth": 1.3, "labelFont": "Liberation Sans", "labelFontSize": 14, "labelColor": "#231f20", "labelPadding": 7, "labelFlush": false, "labelOverlap": false, "title": "m/z", "titleFont": "Liberation Sans", "titleFontSize": 16.5, "titleFontWeight": "bold", "titleFontStyle": "italic", "titleColor": "#231f20", "titlePadding": 3}},
  "y": {"field": "intensity", "type": "quantitative", "scale": {"domain": [-0.031, 1.0853], "nice": false, "zero": false}, "axis": null}}},
{"transform": [{"filter": "datum.label === '1561 Da'"}],
 "mark": {"type": "text", "align": "left", "baseline": "alphabetic", "dx": 8, "dy": 15, "fontSize": 14, "color": "#231f20"},
 "encoding": {"x": {"field": "mz", "type": "quantitative"}, "y": {"field": "intensity", "type": "quantitative"}, "text": {"field": "label"}}},
{"transform": [{"filter": "datum.label === '1580 Da'"}],
 "mark": {"type": "text", "align": "left", "baseline": "alphabetic", "dx": -0.8, "dy": -0.4, "fontSize": 14, "color": "#231f20"},
 "encoding": {"x": {"field": "mz", "type": "quantitative"}, "y": {"field": "intensity", "type": "quantitative"}, "text": {"field": "label"}}},
{"mark": {"type": "text", "text": "ΔycaO-tfuA", "align": "left", "baseline": "alphabetic", "dx": 1, "dy": -19, "fontSize": 18, "fontStyle": "italic", "color": "#231f20"},
 "encoding": {"x": {"aggregate": "min", "field": "mz", "type": "quantitative"}, "y": {"datum": 0}}}
]
}
]
}
